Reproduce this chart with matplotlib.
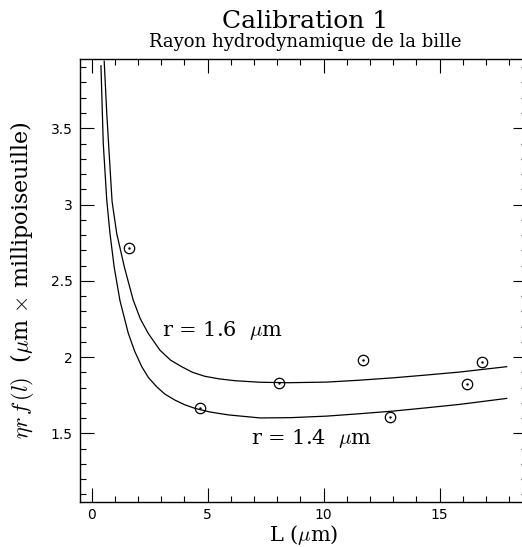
import numpy as np
import matplotlib.pyplot as plt
from matplotlib.ticker import MultipleLocator

plt.rcParams['mathtext.fontset'] = 'cm'

# curve r = 1.6 um
L_16 = [0.54, 0.65, 0.76, 0.88, 1.08, 1.41, 1.79, 2.1, 2.44, 2.94, 3.4, 3.88, 4.35, 4.88, 5.5, 6.18, 7.26, 8.5, 10.13, 11.5, 13.0, 14.4, 15.87, 17.89]
v_16 = [3.94, 3.60, 3.32, 3.02, 2.81, 2.59, 2.374, 2.25, 2.155, 2.046, 1.98, 1.937, 1.900, 1.874, 1.857, 1.845, 1.835, 1.832, 1.836, 1.848, 1.864, 1.882, 1.902, 1.937]

# curve r = 1.4 um
L_14 = [0.40, 0.50, 0.65, 0.79, 0.97, 1.22, 1.58, 1.85, 2.16, 2.45, 2.80, 3.15, 3.59, 4.0, 4.45, 5.1, 5.89, 7.26, 8.6, 10.13, 11.5, 13.0, 14.4, 15.87, 17.89]
v_14 = [3.91, 3.40, 3.03, 2.81, 2.59, 2.37, 2.155, 2.04, 1.937, 1.865, 1.806, 1.758, 1.718, 1.688, 1.664, 1.640, 1.621, 1.601, 1.603, 1.613, 1.628, 1.646, 1.667, 1.690, 1.729]

# measured points
L_pts = [1.61, 4.65, 8.09, 11.69, 12.87, 16.18, 16.81]
v_pts = [2.716, 1.668, 1.832, 1.980, 1.607, 1.821, 1.965]

fig = plt.figure(figsize=(5.22, 5.47), dpi=100)
ax = fig.add_axes([80.3 / 522, 45 / 547, 447 / 522, 443 / 547])

ax.plot(L_16, v_16, color='black', lw=0.9)
ax.plot(L_14, v_14, color='black', lw=0.9)
ax.plot(L_pts, v_pts, 'o', mfc='none', mec='black', mew=0.9, ms=7.5)
ax.plot(L_pts, v_pts, '.', color='black', ms=1.5)

ax.text(3.02, 2.177, r'r = 1.6  $\mu$m', family='DejaVu Serif', fontsize=15, ha='left', va='center')
ax.text(6.87, 1.465, r'r = 1.4  $\mu$m', family='DejaVu Serif', fontsize=15, ha='left', va='center')

ax.set_xlim(-0.49, 18.78)
ax.set_ylim(1.05, 3.954)
ax.xaxis.set_major_locator(MultipleLocator(5))
ax.xaxis.set_minor_locator(MultipleLocator(1))
ax.yaxis.set_major_locator(MultipleLocator(0.5))
ax.yaxis.set_minor_locator(MultipleLocator(0.1))
ax.set_xticks([0, 5, 10, 15])
ax.set_xticklabels(['0', '5', '10', '15'])
ax.set_yticks([1.5, 2, 2.5, 3, 3.5])
ax.set_yticklabels(['1.5', '2', '2.5', '3', '3.5'])
ax.tick_params(which='both', direction='in', top=True, right=True, width=0.8, labelsize=10)
ax.tick_params(which='major', length=10)
ax.tick_params(which='minor', length=4.3)
ax.tick_params(axis='y', pad=5.5)
ax.tick_params(axis='x', pad=4.5)
for s in ax.spines.values():
    s.set_linewidth(1.0)

fig.text(305 / 522, 1 - 28 / 547, 'Calibration 1', family='DejaVu Serif', fontsize=18, ha='center', va='baseline')
fig.text(305 / 522, 1 - 47 / 547, 'Rayon hydrodynamique de la bille', family='DejaVu Serif', fontsize=13, ha='center', va='baseline')
fig.text(304 / 522, 1 - 541 / 547, r'L ($\mu$m)', family='DejaVu Serif', fontsize=15, ha='center', va='baseline')
fig.text(22 / 522, 1 - 280 / 547, r'$\eta r\,f\,(l)$  ($\mu$m $\times$ millipoiseuille)', family='DejaVu Serif',
         fontsize=16, rotation=90, ha='center', va='center')

plt.savefig('out.png', dpi=100)
